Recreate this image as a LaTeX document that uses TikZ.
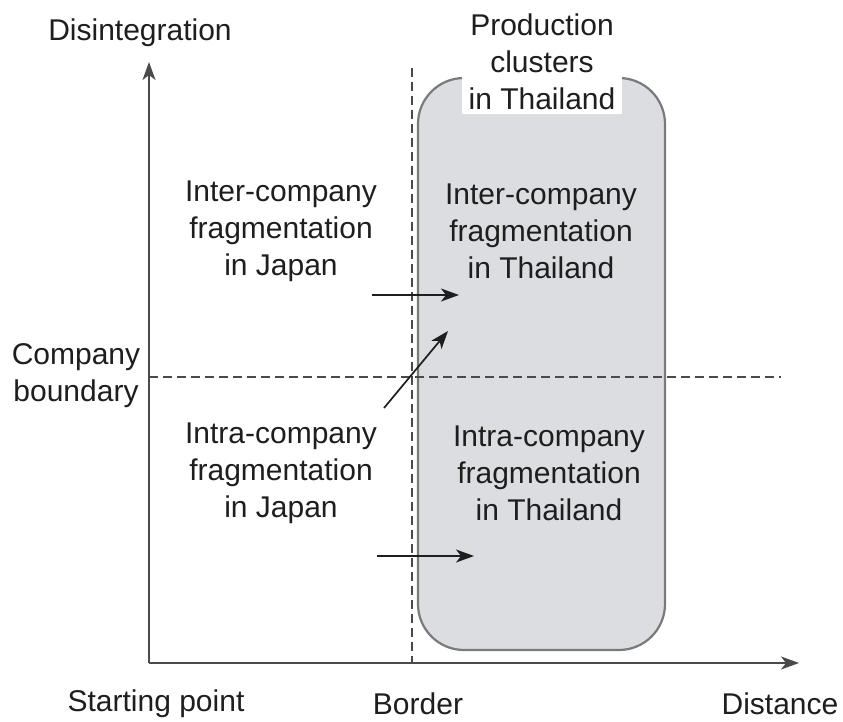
\documentclass[tikz,border=0pt]{standalone}
\usepackage{fontspec}
\setmainfont{Liberation Sans}
\usetikzlibrary{arrows.meta}
\definecolor{axisgray}{HTML}{4A4A4A}
\definecolor{boxfill}{HTML}{DCDDE0}
\definecolor{boxline}{HTML}{7A7A7A}
\definecolor{ink}{HTML}{1E1E1E}
\tikzset{
  lbl/.style={font=\fontsize{30}{37}\selectfont, text=ink, align=center, inner sep=0pt},
  axisline/.style={draw=axisgray, line width=1.8pt, -{Stealth[length=18pt,width=13pt,inset=5pt]}},
  guide/.style={draw=axisgray, line width=1.3pt, dash pattern=on 9pt off 5pt},
  shift arrow/.style={draw=ink, line width=1.7pt, -{Stealth[length=18pt,width=13pt,inset=5pt]}},
  cluster/.style={draw=boxline, line width=2.2pt, fill=boxfill, rounded corners=46pt,
    minimum width=247pt, minimum height=572pt, inner sep=0pt}
}
\begin{document}
\begin{tikzpicture}[x=1pt,y=-1pt]
\useasboundingbox (0,0) rectangle (843,722);

% production cluster region
\node[cluster] (cl) at (541.5,364) {};
\node[lbl, fill=white, inner xsep=7pt, inner ysep=4pt] (cltitle) at (542,62)
  {Production\\clusters\\in Thailand};

% axes
\coordinate (origin) at (149,663);
\coordinate (ytip) at (149,62);
\coordinate (xtip) at (799,663);
\draw[axisline] (origin) -- (ytip);
\draw[axisline] (origin) -- (xtip);

% border and company boundary
\coordinate (btop) at (412,68);
\coordinate (bbot) at (412,663);
\coordinate (cleft) at (149,377);
\coordinate (cright) at (781,377);
\draw[guide] (btop) -- (bbot);
\draw[guide] (cleft) -- (cright);

% axis labels
\node[lbl] (ylab) at (140,33) {Disintegration};
\node[lbl] (cb) at (76,376) {Company\\boundary};
\node[lbl] (sp) at (156,704) {Starting point};
\node[lbl] (bd) at (418,704) {Border};
\node[lbl] (dist) at (780,704) {Distance};

% quadrant labels
\node[lbl] (interJ) at (281,231) {Inter-company\\fragmentation\\in Japan};
\node[lbl] (interT) at (541,231) {Inter-company\\fragmentation\\in Thailand};
\node[lbl] (intraJ) at (281,473) {Intra-company\\fragmentation\\in Japan};
\node[lbl] (intraT) at (549,473) {Intra-company\\fragmentation\\in Thailand};

% relocation arrows
\coordinate (a1s) at (372,295); \coordinate (a1e) at (459,295);
\coordinate (a2s) at (384,408); \coordinate (a2e) at (448,331);
\coordinate (a3s) at (377,556); \coordinate (a3e) at (474,556);
\draw[shift arrow] (a1s) -- (a1e);
\draw[shift arrow] (a2s) -- (a2e);
\draw[shift arrow] (a3s) -- (a3e);
\end{tikzpicture}
\end{document}
